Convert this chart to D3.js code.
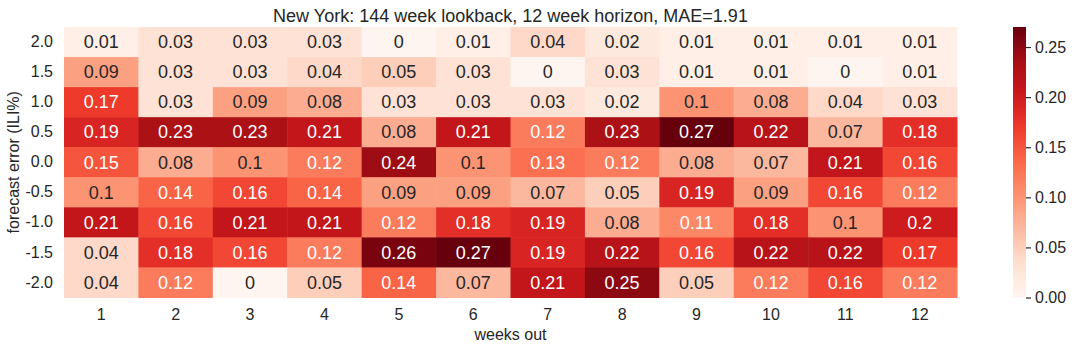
<!DOCTYPE html>
<html><head><meta charset="utf-8">
<script src="https://cdn.jsdelivr.net/npm/d3@7"></script>
<style>body{margin:0;background:#fff}svg{display:block}text{font-family:"Liberation Sans",Arial,sans-serif;}</style>
</head><body><svg id="c" width="1075" height="349"></svg>
<script>
const title = "New York: 144 week lookback, 12 week horizon, MAE=1.91";
const weeks = ["1","2","3","4","5","6","7","8","9","10","11","12"];
const errors = ["2.0","1.5","1.0","0.5","0.0","-0.5","-1.0","-1.5","-2.0"];
const row_2_0  = [0.01,0.03,0.03,0.03,0,0.01,0.04,0.02,0.01,0.01,0.01,0.01];
const row_1_5  = [0.09,0.03,0.03,0.04,0.05,0.03,0,0.03,0.01,0.01,0,0.01];
const row_1_0  = [0.17,0.03,0.09,0.08,0.03,0.03,0.03,0.02,0.1,0.08,0.04,0.03];
const row_0_5  = [0.19,0.23,0.23,0.21,0.08,0.21,0.12,0.23,0.27,0.22,0.07,0.18];
const row_0_0  = [0.15,0.08,0.1,0.12,0.24,0.1,0.13,0.12,0.08,0.07,0.21,0.16];
const row_m0_5 = [0.1,0.14,0.16,0.14,0.09,0.09,0.07,0.05,0.19,0.09,0.16,0.12];
const row_m1_0 = [0.21,0.16,0.21,0.21,0.12,0.18,0.19,0.08,0.11,0.18,0.1,0.2];
const row_m1_5 = [0.04,0.18,0.16,0.12,0.26,0.27,0.19,0.22,0.16,0.22,0.22,0.17];
const row_m2_0 = [0.04,0.12,0,0.05,0.14,0.07,0.21,0.25,0.05,0.12,0.16,0.12];
const rows = [row_2_0,row_1_5,row_1_0,row_0_5,row_0_0,row_m0_5,row_m1_0,row_m1_5,row_m2_0];
const cbTicks = [0,0.05,0.1,0.15,0.2,0.25];
const vmin = 0, vmax = 0.27;
const redsStops = ["#fff5f0","#fee0d2","#fcbba1","#fc9272","#fb6a4a","#ef3b2c","#cb181d","#a50f15","#67000d"];

const svg = d3.select("#c");
const L = 64, R = 957, T = 27, B = 297.5;
const x = d3.scaleBand().domain(weeks).range([L,R]);
const y = d3.scaleBand().domain(errors).range([T,B]);
const ramp = d3.scaleLinear().domain(d3.range(9).map(i=>i/8)).range(redsStops).interpolate(d3.interpolateRgb).clamp(true);
const norm = d3.scaleLinear().domain([vmin,vmax]).range([0,1]).clamp(true);
const color = v => ramp(norm(v));

function lum(c){
  const r = d3.rgb(c);
  const f = u => { u/=255; return u<=0.03928? u/12.92 : Math.pow((u+0.055)/1.055,2.4); };
  return 0.2126*f(r.r)+0.7152*f(r.g)+0.0722*f(r.b);
}
const cells = [];
rows.forEach((r,i)=>r.forEach((v,j)=>cells.push({e:errors[i],w:weeks[j],v})));

svg.append("g").selectAll("rect").data(cells).join("rect")
  .attr("x",d=>x(d.w)).attr("y",d=>y(d.e))
  .attr("width",x.bandwidth()+0.5).attr("height",y.bandwidth()+0.5)
  .attr("fill",d=>color(d.v));
svg.append("g").selectAll("text").data(cells).join("text")
  .attr("x",d=>x(d.w)+x.bandwidth()/2).attr("y",d=>y(d.e)+y.bandwidth()/2)
  .attr("dy","0.35em").attr("text-anchor","middle").attr("font-size",18)
  .attr("fill",d=>lum(color(d.v))>0.408?"#262626":"#ffffff")
  .text(d=>String(d.v));

// axes
const xa = svg.append("g").attr("transform",`translate(0,${B})`).call(d3.axisBottom(x).tickSize(0).tickPadding(11));
xa.select(".domain").remove();
xa.selectAll("text").attr("font-size",16).attr("fill","#262626");
const ya = svg.append("g").attr("transform",`translate(${L},0)`).call(d3.axisLeft(y).tickSize(0).tickPadding(11));
ya.select(".domain").remove();
ya.selectAll("text").attr("font-size",16).attr("fill","#262626");

svg.append("text").attr("x",(L+R)/2).attr("y",21.5).attr("text-anchor","middle")
  .attr("font-size",18).attr("fill","#262626").text(title);
svg.append("text").attr("x",(L+R)/2).attr("y",339.5).attr("text-anchor","middle")
  .attr("font-size",16).attr("fill","#262626").text("weeks out");
svg.append("text").attr("transform",`translate(19,${(T+B)/2}) rotate(-90)`).attr("text-anchor","middle")
  .attr("font-size",16).attr("fill","#262626").text("forecast error (ILI%)");

// colorbar
const cbX = 1013, cbW = 13;
const cy = d3.scaleLinear().domain([vmin,vmax]).range([B,T]);
const defs = svg.append("defs");
const grad = defs.append("linearGradient").attr("id","g").attr("x1",0).attr("y1",1).attr("x2",0).attr("y2",0);
d3.range(0,1.0001,0.02).forEach(t=>grad.append("stop").attr("offset",t).attr("stop-color",ramp(t)));
svg.append("rect").attr("x",cbX).attr("y",T).attr("width",cbW).attr("height",B-T).attr("fill","url(#g)");
const ca = svg.append("g").attr("transform",`translate(${cbX+cbW},0)`)
  .call(d3.axisRight(cy).tickValues(cbTicks).tickFormat(d3.format(".2f")).tickSize(5).tickPadding(4));
ca.select(".domain").remove();
ca.selectAll("line").attr("stroke","#262626").attr("stroke-width",1.2);
ca.selectAll("text").attr("font-size",16).attr("fill","#262626");
</script></body></html>
